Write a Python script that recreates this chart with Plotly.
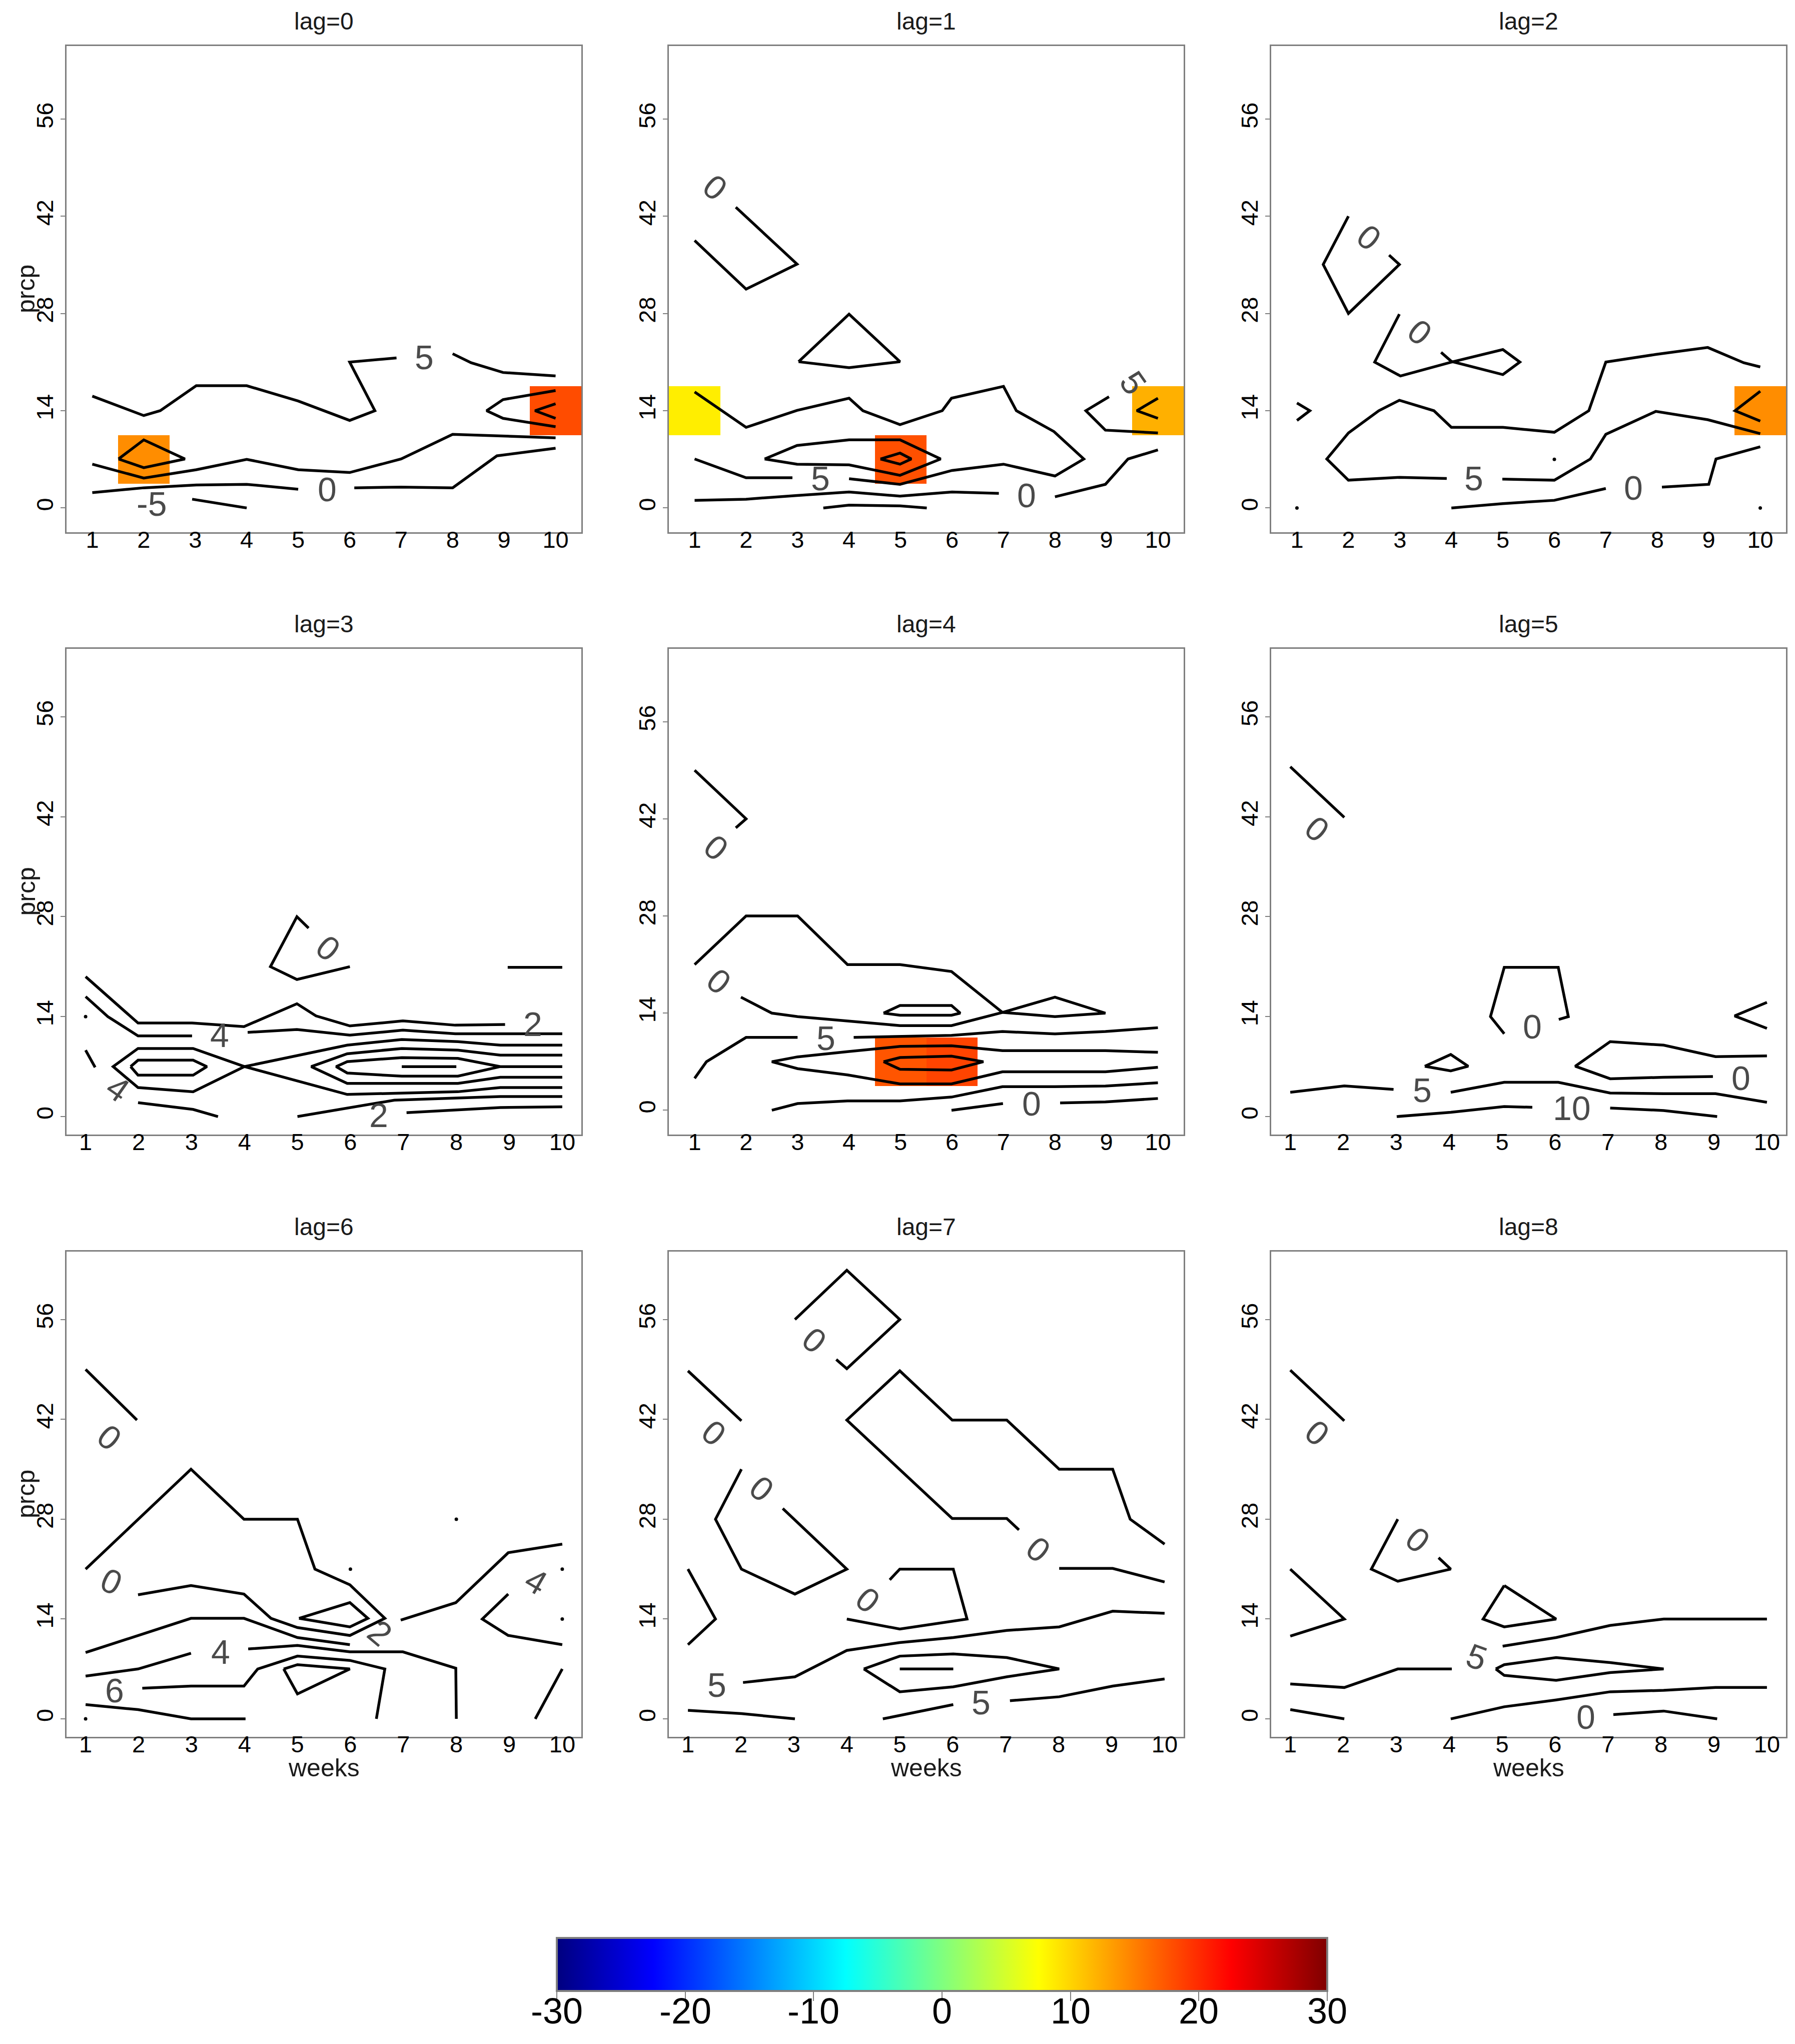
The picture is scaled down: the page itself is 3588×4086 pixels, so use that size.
import plotly.graph_objects as go

W, H = 3588, 4086

weeks = list(range(1, 11))
prcp = list(range(0, 70, 7))
x_ticks = list(range(1, 11))
y_ticks = [0, 14, 28, 42, 56]
bar_ticks = [-30, -20, -10, 0, 10, 20, 30]

# jet.colors palette used by the image() call
jet = ["#00007F", "#0000FF", "#007FFF", "#00FFFF", "#7FFF7F",
       "#FFFF00", "#FF7F00", "#FF0000", "#7F0000"]

# ---- lag = 0 ----
lag0_cells = [(2, 7, 14.2), (10, 14, 18.0)]
lag0_lines = [
    [(1, 16.1), (2, 13.3), (2.32, 14), (3.02, 17.6), (4, 17.6), (5, 15.4), (6, 12.6), (6.49, 14), (6, 21), (6.91, 21.6)],
    [(8.0, 22.2), (8.36, 20.9), (8.98, 19.5), (10, 19.0)],
    [(10, 16.9), (8.98, 15.6), (8.66, 14), (8.98, 12.9), (10, 11.7)],
    [(10, 15.0), (9.6, 14.0), (10, 12.9)],
    [(1, 6.3), (2, 4.3), (3.02, 5.5), (4, 7.0), (5, 5.5), (6, 5.1), (7, 7.05), (8, 10.6), (10, 10.1)],
    [(1.51, 7.05), (2, 9.8), (2.8, 7.05), (2, 5.8), (1.51, 7.05)],
    [(1, 2.2), (2, 2.9), (3.02, 3.3), (4, 3.4), (5, 2.7)],
    [(6.09, 2.9), (7, 3.0), (8, 2.9), (8.86, 7.5), (10, 8.6)],
    [(2.94, 1.26), (4, 0)],
]
lag0_labels = [("5", 7.45, 21.7, 0), ("0", 5.56, 2.7, 0), ("-5", 2.15, 0.6, 0)]
lag0_dots = []

# ---- lag = 1 ----
lag1_cells = [(1, 14, 8.5), (5, 7, 17.8), (10, 14, 12.1)]
lag1_lines = [
    [(1, 38.5), (2, 31.5), (2.99, 35.1), (1.8, 43.3)],
    [(3.02, 21.05), (4, 27.9), (4.99, 21.05), (4, 20.2), (3.02, 21.05)],
    [(1, 7.05), (2, 4.35), (2.9, 4.35)],
    [(4, 4.2), (4.99, 3.4), (6, 5.4), (7, 6.3), (8, 4.6), (8.56, 7.05), (7.98, 11.0), (7.25, 14.0), (7, 17.5),
     (5.99, 15.8), (5.81, 14.0), (4.99, 12.0), (4.27, 14.0), (4, 15.8), (2.99, 14.05), (2, 11.6), (1, 16.7)],
    [(2.36, 7.05), (2.99, 9.0), (4, 9.8), (4.99, 9.8), (5.78, 7.05), (4.99, 4.7), (4, 6.2), (2.99, 6.3), (2.36, 7.05)],
    [(4.61, 7.05), (4.99, 7.9), (5.21, 7.05), (4.99, 6.3), (4.61, 7.05)],
    [(1, 1.1), (2, 1.26), (2.99, 1.8), (4, 2.3), (4.99, 1.7), (6, 2.3), (6.91, 2.1)],
    [(8, 1.6), (8.98, 3.4), (9.42, 7.05), (10, 8.35)],
    [(3.5, 0), (4, 0.4), (4.99, 0.3), (5.51, 0)],
    [(9.05, 16.0), (8.6, 14.0), (8.98, 11.2), (10, 10.8)],
    [(10, 15.8), (9.59, 14.0), (10, 12.9)],
]
lag1_labels = [("0", 1.4, 46.2, 40), ("5", 3.44, 4.25, 0), ("0", 7.45, 1.8, 0), ("5", 9.52, 18.0, 55)]
lag1_dots = []

# ---- lag = 2 ----
lag2_cells = [(10, 14, 14.2)]
lag2_lines = [
    [(2, 42.0), (1.51, 35.05), (2, 28.0), (2.99, 35.05), (2.79, 36.4)],
    [(2.99, 27.9), (2.51, 21.0), (3.01, 19.0), (4.0, 21.0), (5.0, 22.8), (5.33, 21.0), (5.0, 19.2), (4.0, 21.1), (3.8, 22.4)],
    [(1, 15.1), (1.25, 14.0), (1, 12.6)],
    [(10, 20.3), (9.68, 20.9), (8.98, 23.1), (7.97, 22.1), (7.0, 21.0), (6.67, 14.0), (6.0, 10.9), (5.0, 11.6),
     (4.0, 11.6), (3.66, 14.0), (2.99, 15.5), (2.59, 14.0), (2, 10.8), (1.58, 7.05), (2, 4.0), (2.99, 4.4), (3.91, 4.25)],
    [(4.99, 4.15), (6, 4.0), (6.7, 7.05), (7, 10.6), (7.97, 13.9), (8.98, 12.7), (10, 10.7)],
    [(4.0, 0), (5.0, 0.63), (6.0, 1.1), (7.0, 2.8)],
    [(8.09, 3.0), (9.0, 3.4), (9.14, 7.05), (10, 8.8)],
    [(10, 16.8), (9.51, 14.0), (10, 12.5)],
]
lag2_labels = [("0", 2.4, 39.0, 40), ("0", 3.39, 25.3, 40), ("5", 4.44, 4.25, 0), ("0", 7.54, 2.9, 0)]
lag2_dots = [(1, 0), (6, 7), (10, 0)]

# ---- lag = 3 ----
lag3_cells = []
lag3_lines = [
    [(1, 19.6), (1.99, 13.1), (3.01, 13.1), (3.99, 12.6), (4.99, 15.8), (5.35, 14.1), (5.99, 12.7), (6.99, 13.4), (7.98, 12.8), (8.92, 12.9)],
    [(1, 16.8), (1.42, 14.0), (1.99, 11.3), (3.01, 11.3)],
    [(4.06, 11.8), (4.99, 12.2), (5.99, 11.4), (6.99, 12.1), (7.98, 11.6), (10, 11.6)],
    [(8.97, 20.9), (10, 20.9)],
    [(5.21, 26.4), (4.99, 28.0), (4.49, 21.0), (4.99, 19.2), (5.99, 21.0)],
    [(10, 10.0), (8.83, 10.0), (8.03, 10.5), (6.97, 10.8), (5.94, 10.0), (4.0, 7.0), (3.03, 3.48), (1.99, 4.06),
     (1.52, 7.0), (1.99, 9.54), (3.03, 9.54), (4.0, 7.0), (5.94, 3.1), (8.03, 3.48), (8.83, 4.06), (10, 4.06)],
    [(10, 8.6), (8.83, 8.6), (8.03, 9.3), (6.97, 9.54), (5.94, 8.8), (5.26, 7.0), (5.94, 4.64), (8.03, 4.64), (8.83, 5.5), (10, 5.5)],
    [(10, 7.0), (8.83, 7.0), (8.03, 8.14), (6.97, 8.26), (5.94, 7.7), (5.73, 7.0), (5.94, 6.1), (6.97, 5.66), (8.03, 5.66), (8.83, 7.0)],
    [(6.97, 7.0), (8.0, 7.0)],
    [(1.85, 7.0), (1.99, 7.9), (3.03, 7.9), (3.29, 7.0), (3.03, 5.8), (1.99, 5.8), (1.85, 7.0)],
    [(1.99, 1.95), (3.03, 1.0), (3.5, 0)],
    [(5.0, 0), (6.83, 2.3), (8.83, 2.8), (10, 2.8)],
    [(7.06, 0.55), (8.83, 1.26), (10, 1.37)],
    [(1, 9.3), (1.18, 6.9)],
]
lag3_labels = [("2", 9.44, 13.0, 0), ("4", 3.53, 11.4, 0), ("0", 5.58, 23.6, 40), ("4", 1.61, 3.95, 35), ("2", 6.53, 0.2, 0)]
lag3_dots = [(1, 14)]

# ---- lag = 4 ----
lag4_cells = [(5, 7, 17.5), (6, 7, 18.5)]
lag4_lines = [
    [(1, 49.0), (2, 42.0), (1.8, 40.7)],
    [(1.9, 16.3), (2.5, 14.0), (3, 13.5), (3.97, 12.9), (4.99, 12.2), (5.99, 12.2), (6.98, 14.1), (8, 16.3), (8.98, 14.0),
     (8, 13.5), (6.98, 14.1), (5.99, 20.0), (4.99, 21.0), (3.97, 21.0), (3, 28.0), (2, 28.0), (1, 21.0)],
    [(4.67, 14.0), (4.99, 15.1), (5.99, 15.1), (6.16, 14.0), (5.99, 13.7), (4.99, 13.7), (4.67, 14.0)],
    [(1, 4.6), (1.23, 7.0), (2, 10.5), (3, 10.5)],
    [(4.09, 10.5), (4.99, 10.6), (5.99, 10.8), (6.98, 11.35), (8, 11.0), (8.98, 11.35), (10, 11.9)],
    [(10, 8.35), (8.98, 8.6), (8, 8.6), (6.98, 8.6), (5.99, 9.3), (4.99, 9.2), (3.97, 8.45), (3, 7.7), (2.5, 7.0),
     (3, 6.0), (3.97, 5.1), (4.99, 3.8), (5.99, 3.8), (6.98, 5.55), (8, 5.55), (8.98, 5.55), (10, 6.2)],
    [(4.67, 7.0), (4.99, 7.6), (5.99, 7.8), (6.61, 7.0), (5.99, 5.8), (4.99, 5.9), (4.67, 7.0)],
    [(2.5, 0), (3, 0.97), (3.97, 1.35), (4.99, 1.35), (5.99, 1.9), (6.98, 3.4), (8, 3.4), (8.98, 3.5), (10, 3.96)],
    [(5.99, 0), (6.99, 0.97)],
    [(8.1, 1.06), (8.98, 1.2), (10, 1.7)],
]
lag4_labels = [("0", 1.42, 37.9, 40), ("0", 1.47, 18.6, 40), ("5", 3.55, 10.4, 0), ("0", 7.55, 0.97, 0)]
lag4_dots = []

# ---- lag = 5 ----
lag5_cells = []
lag5_lines = [
    [(1, 49.0), (2.02, 41.9)],
    [(5.04, 11.6), (4.78, 14.0), (5.04, 20.9), (6.06, 20.9), (6.25, 14.0), (6.07, 13.6)],
    [(3.54, 7.05), (4.03, 8.7), (4.36, 7.05), (4.03, 6.4), (3.54, 7.05)],
    [(10, 16.0), (9.39, 14.1), (10, 12.35)],
    [(10, 8.5), (9.03, 8.4), (8.05, 10.0), (7.04, 10.5), (6.38, 7.05), (7.04, 5.3), (8.05, 5.5), (8.98, 5.6)],
    [(1, 3.4), (2.02, 4.3), (2.95, 3.8)],
    [(4.03, 3.4), (5.04, 4.8), (6.06, 4.8), (7.04, 3.3), (8.05, 3.2), (9.03, 3.2), (10, 2.0)],
    [(3.01, 0), (4.03, 0.6), (5.04, 1.4), (5.57, 1.3)],
    [(7.04, 1.2), (8.05, 0.85), (9.06, 0)],
]
lag5_labels = [("0", 1.51, 40.3, 40), ("0", 5.57, 12.6, 0), ("0", 9.51, 5.4, 0), ("5", 3.49, 3.7, 0), ("10", 6.32, 1.2, 0)]
lag5_dots = []

# ---- lag = 6 ----
lag6_cells = []
lag6_lines = [
    [(1, 49.0), (1.97, 41.9)],
    [(1.99, 17.4), (2.99, 18.7), (3.99, 17.5), (4.5, 14.1), (5.0, 12.8), (5.99, 11.7), (6.65, 14.1), (5.99, 18.8),
     (5.33, 21.0), (5.0, 28.0), (3.99, 28.0), (2.99, 35.0), (1, 21.0)],
    [(6.95, 13.85), (7.99, 16.3), (8.98, 23.3), (10, 24.5)],
    [(5.03, 14.1), (5.99, 16.3), (6.33, 14.1), (5.99, 12.9), (5.03, 14.1)],
    [(1, 9.3), (1.99, 11.7), (2.99, 14.1), (3.99, 14.1), (5.0, 11.4), (5.99, 10.4)],
    [(1, 6.0), (1.99, 7.0), (2.99, 9.2)],
    [(4.07, 9.8), (5.0, 10.3), (5.99, 9.4), (6.99, 9.4), (7.99, 7.1), (8.0, 0)],
    [(2.07, 4.3), (2.99, 4.6), (3.99, 4.6), (4.25, 7.0), (5.0, 8.8), (5.99, 8.2), (6.65, 7.0), (6.49, 0)],
    [(4.74, 7.0), (5.0, 3.5), (5.99, 7.0), (5.0, 7.6), (4.74, 7.0)],
    [(1, 2.0), (1.99, 1.3), (2.99, 0), (4.02, 0)],
    [(8.98, 17.5), (8.49, 14.0), (8.98, 11.7), (10, 10.4)],
    [(9.49, 0), (10, 7.0)],
]
lag6_labels = [("0", 1.45, 39.5, 40), ("0", 1.49, 19.3, 25), ("2", 6.56, 12.1, 40), ("4", 3.55, 9.4, 0),
               ("6", 1.55, 4.0, 0), ("4", 9.51, 19.3, 30)]
lag6_dots = [(1, 0), (6, 21), (8, 28), (10, 21), (10, 14)]

# ---- lag = 7 ----
lag7_cells = []
lag7_lines = [
    [(3.02, 56.0), (4.0, 62.9), (5.0, 56.0), (4.0, 49.1), (3.8, 50.4)],
    [(1, 48.8), (2.01, 41.8)],
    [(2.01, 35.0), (1.52, 28.0), (2.01, 21.0), (3.02, 17.5), (4.0, 21.0), (2.79, 29.5)],
    [(7.25, 26.5), (7.02, 28.1), (5.99, 28.1), (4.0, 41.9), (5.0, 48.8), (5.99, 41.9), (7.02, 41.9), (8.01, 35.0),
     (9.02, 35.0), (9.35, 28.0), (10, 24.5)],
    [(8.01, 21.1), (9.02, 21.1), (10, 19.2)],
    [(4.81, 19.5), (5.0, 21.0), (6.01, 21.0), (6.27, 14.0), (5.0, 12.6), (4.0, 14.0)],
    [(1, 21.0), (1.52, 14.0), (1, 10.4)],
    [(2.04, 5.1), (3.02, 5.9), (4.0, 9.6), (5.0, 10.7), (6.01, 11.4), (7.02, 12.4), (8.01, 12.9), (9.02, 15.1), (10, 14.8)],
    [(4.32, 7.0), (5.0, 8.8), (6.01, 9.1), (7.02, 8.6), (8.01, 7.0), (7.02, 5.9), (6.01, 4.5), (5.0, 3.8), (4.32, 7.0)],
    [(5.0, 7.0), (6.01, 7.0)],
    [(1, 1.2), (2.01, 0.74), (3.02, 0)],
    [(4.68, 0), (6.01, 2.0)],
    [(7.08, 2.55), (8.01, 3.1), (9.02, 4.6), (10, 5.6)],
]
lag7_labels = [("0", 3.39, 53.1, 40), ("0", 1.49, 40.1, 40), ("0", 2.4, 32.3, 40), ("0", 7.62, 23.8, 40),
               ("0", 4.4, 16.7, 40), ("5", 1.55, 4.8, 0), ("5", 6.53, 2.3, 0)]
lag7_dots = []

# ---- lag = 8 ----
lag8_cells = []
lag8_lines = [
    [(1, 48.9), (2.02, 41.8)],
    [(3.03, 28.0), (2.53, 21.0), (3.03, 19.3), (4.03, 21.0), (3.8, 22.6)],
    [(1, 21.0), (2.02, 14.0), (1, 11.6)],
    [(5.04, 18.7), (6.02, 14.0), (5.04, 12.9), (4.64, 14.0), (5.04, 18.7)],
    [(5.01, 10.2), (6.02, 11.4), (7.04, 13.1), (8.05, 14.0), (9.03, 14.0), (10, 14.0)],
    [(1, 4.9), (2.02, 4.4), (3.03, 7.0), (4.05, 7.0)],
    [(4.88, 7.0), (5.04, 7.6), (6.02, 8.6), (7.04, 7.9), (8.05, 7.0), (7.04, 6.5), (6.02, 5.4), (5.04, 6.1), (4.88, 7.0)],
    [(4.03, 0), (5.04, 1.7), (6.02, 2.65), (7.04, 3.8), (8.05, 4.0), (9.03, 4.4), (10, 4.4)],
    [(1, 1.3), (2.02, 0)],
    [(7.1, 0.6), (8.05, 1.1), (9.06, 0)],
]
lag8_labels = [("0", 1.51, 40.1, 40), ("0", 3.41, 25.1, 40), ("5", 4.52, 8.7, 20), ("0", 6.58, 0.3, 0)]
lag8_dots = []

panels = [
    (lag0_cells, lag0_lines, lag0_labels, lag0_dots),
    (lag1_cells, lag1_lines, lag1_labels, lag1_dots),
    (lag2_cells, lag2_lines, lag2_labels, lag2_dots),
    (lag3_cells, lag3_lines, lag3_labels, lag3_dots),
    (lag4_cells, lag4_lines, lag4_labels, lag4_dots),
    (lag5_cells, lag5_lines, lag5_labels, lag5_dots),
    (lag6_cells, lag6_lines, lag6_labels, lag6_dots),
    (lag7_cells, lag7_lines, lag7_labels, lag7_dots),
    (lag8_cells, lag8_lines, lag8_labels, lag8_dots),
]

# panel frames in pixels
col_px = [(125, 1154), (1329, 2358), (2533, 3562)]
row_px = [(84, 1056), (1289, 2260), (2494, 3464)]

# colour key geometry in pixels
bar_left, bar_len, bar_top, bar_thick = 1105, 1540, 3866, 106
CMIN, CMAX = -30, 30

FONT = "Liberation Sans, Arial, Helvetica, sans-serif"
GREY = "#7f7f7f"

fig = go.Figure()
annotations = []
layout_axes = {}

for i, (cells, lines, labels, dots) in enumerate(panels):
    r, c = divmod(i, 3)
    sfx = "" if i == 0 else str(i + 1)
    xa, ya = "x" + sfx, "y" + sfx

    if cells:
        z = [[None] * len(weeks) for _ in prcp]
        for wk, pr, val in cells:
            z[prcp.index(pr)][weeks.index(wk)] = val
        fig.add_trace(go.Heatmap(x=weeks, y=prcp, z=z, coloraxis="coloraxis",
                                 xaxis=xa, yaxis=ya, hoverinfo="skip"))
        xr, yr = [0.5, 10.5], [-3.5, 66.5]
    else:
        xr, yr = [0.64, 10.36], [-2.52, 65.52]

    xs, ys = [], []
    for ln in lines:
        xs += [p[0] for p in ln] + [None]
        ys += [p[1] for p in ln] + [None]
    fig.add_trace(go.Scatter(x=xs, y=ys, mode="lines", line=dict(color="black", width=5.5),
                             xaxis=xa, yaxis=ya, showlegend=False, hoverinfo="skip"))
    if dots:
        fig.add_trace(go.Scatter(x=[d[0] for d in dots], y=[d[1] for d in dots], mode="markers",
                                 marker=dict(color="black", size=7), xaxis=xa, yaxis=ya,
                                 showlegend=False, hoverinfo="skip"))

    for txt, lx, ly, ang in labels:
        annotations.append(dict(text=txt, x=lx, y=ly, xref=xa, yref=ya, showarrow=False,
                                textangle=ang, font=dict(family=FONT, size=68, color="#4a4a4a")))

    x0, x1 = col_px[c]
    y0, y1 = row_px[r]
    layout_axes["xaxis" + sfx] = dict(
        domain=[x0 / W, x1 / W], range=xr, anchor=ya, tickvals=x_ticks, ticks="outside", ticklen=0,
        ticklabelstandoff=-28,
        showline=True, mirror=True, linecolor=GREY, linewidth=3, showgrid=False, zeroline=False,
        tickfont=dict(family=FONT, size=47, color="black"), fixedrange=True)
    layout_axes["yaxis" + sfx] = dict(
        domain=[1 - y1 / H, 1 - y0 / H], range=yr, anchor=xa, tickvals=y_ticks, ticks="outside",
        ticklen=9, tickwidth=2, tickcolor=GREY, tickangle=-90, ticklabelstandoff=-4,
        showline=True, mirror=True, linecolor=GREY, linewidth=3, showgrid=False, zeroline=False,
        tickfont=dict(family=FONT, size=47, color="black"), fixedrange=True)

    annotations.append(dict(text=f"lag={i}", x=(x0 + x1) / 2 / W, y=1 - (y0 - 50) / H,
                            xref="paper", yref="paper", showarrow=False, xanchor="center", yanchor="middle",
                            font=dict(family=FONT, size=48, color="#1a1a1a")))
    if c == 0:
        annotations.append(dict(text="prcp", x=44 / W, y=1 - (y0 + y1) / 2 / H, xref="paper", yref="paper",
                                showarrow=False, textangle=-90, xanchor="center", yanchor="middle",
                                font=dict(family=FONT, size=50, color="#1a1a1a")))
    if r == 2:
        annotations.append(dict(text="weeks", x=(x0 + x1) / 2 / W, y=1 - 3526 / H, xref="paper", yref="paper",
                                showarrow=False, xanchor="center", yanchor="middle",
                                font=dict(family=FONT, size=50, color="#1a1a1a")))

# colour key tick labels (plain hyphen, as in the original)
for v in bar_ticks:
    annotations.append(dict(text=str(v), x=(bar_left + (v - CMIN) / (CMAX - CMIN) * bar_len) / W,
                            y=1 - 4012 / H, xref="paper", yref="paper", showarrow=False,
                            xanchor="center", yanchor="middle",
                            font=dict(family="Liberation Sans Narrow, " + FONT, size=72, color="black")))

jet_scale = [[k / (len(jet) - 1), col] for k, col in enumerate(jet)]

fig.update_layout(
    width=W, height=H,
    margin=dict(l=0, r=0, t=0, b=0),
    paper_bgcolor="white", plot_bgcolor="white",
    showlegend=False,
    annotations=annotations,
    coloraxis=dict(
        cmin=CMIN, cmax=CMAX, colorscale=jet_scale,
        colorbar=dict(
            orientation="h", x=(bar_left + bar_len / 2) / W, xanchor="center", y=1 - bar_top / H, yanchor="top",
            len=bar_len, lenmode="pixels", thickness=bar_thick, ypad=0, xpad=0,
            outlinecolor=GREY, outlinewidth=4,
            tickvals=bar_ticks, ticks="outside", ticklen=18, tickcolor=GREY, tickwidth=2,
            showticklabels=False,
        ),
    ),
    **layout_axes,
)

fig.write_html("out.html")
